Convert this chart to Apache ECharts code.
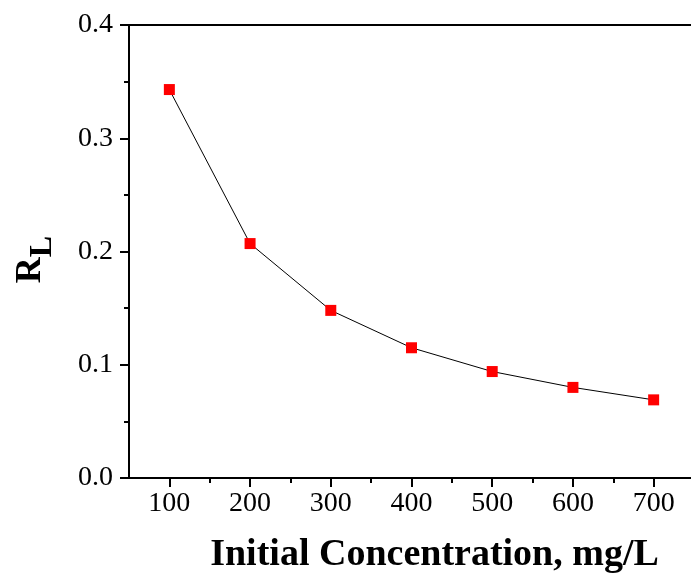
<!DOCTYPE html>
<html>
<head>
<meta charset="utf-8">
<script src="https://cdn.jsdelivr.net/npm/echarts@6/dist/echarts.min.js"></script>
<style>
  html, body { margin: 0; padding: 0; background: #fff; }
  #chart { width: 691px; height: 574px; }
</style>
</head>
<body>
<div id="chart"></div>
<script>
// initial concentration (mg/L) and separation factor R_L
const concentrations = [100, 200, 300, 400, 500, 600, 700]
const rlValues = [0.343, 0.207, 0.148, 0.115, 0.094, 0.080, 0.069]
const xMajorTicks = [100, 200, 300, 400, 500, 600, 700]
const xMinorTicks = [150, 250, 350, 450, 550, 650]

const FONT = 'Liberation Serif'

const chart = echarts.init(document.getElementById('chart'))

chart.setOption({
  animation: false,
  backgroundColor: '#fff',
  grid: { left: 129, right: -3, top: 25, bottom: 96, outerBoundsMode: 'none', containLabel: false },
  xAxis: [
    {
      type: 'value',
      min: 50,
      max: 750,
      position: 'bottom',
      axisLine: { show: true, lineStyle: { color: '#000', width: 2 } },
      axisTick: { show: true, customValues: xMajorTicks, length: 9, lineStyle: { color: '#000', width: 2 } },
      axisLabel: { customValues: xMajorTicks, fontFamily: FONT, fontSize: 28, color: '#000', margin: 12 },
      splitLine: { show: false },
      name: 'Initial Concentration, mg/L',
      nameLocation: 'middle',
      nameGap: 58,
      nameTextStyle: { fontFamily: FONT, fontWeight: 'bold', fontSize: 38, color: '#000', padding: [0, 0, 0, 46] },
    },
    {
      type: 'value',
      min: 50,
      max: 750,
      position: 'bottom',
      axisLine: { show: false },
      axisTick: { show: true, customValues: xMinorTicks, length: 5, lineStyle: { color: '#000', width: 2 } },
      axisLabel: { show: false },
      splitLine: { show: false },
    },
    {
      type: 'value',
      min: 50,
      max: 750,
      position: 'top',
      axisLine: { show: true, lineStyle: { color: '#000', width: 2 } },
      axisTick: { show: false },
      axisLabel: { show: false },
      splitLine: { show: false },
    },
  ],
  yAxis: {
    type: 'value',
    min: 0,
    max: 0.4,
    interval: 0.1,
    axisLine: { show: true, lineStyle: { color: '#000', width: 2 } },
    axisTick: { show: true, length: 9, lineStyle: { color: '#000', width: 2 } },
    minorTick: { show: true, splitNumber: 2, length: 5, lineStyle: { color: '#000', width: 2 } },
    axisLabel: { fontFamily: FONT, fontSize: 28, color: '#000', margin: 16, formatter: v => v.toFixed(1) },
    splitLine: { show: false },
    name: '{r|R}{s|L}',
    nameLocation: 'middle',
    nameGap: 70,
    nameTextStyle: {
      padding: [0, 16, 0, 0],
      rich: {
        r: { fontFamily: FONT, fontWeight: 'bold', fontSize: 36, color: '#000' },
        s: { fontFamily: FONT, fontWeight: 'bold', fontSize: 32, color: '#000', padding: [24, 0, 0, 0] },
      },
    },
  },
  series: [
    {
      type: 'line',
      xAxisIndex: 0,
      data: concentrations.map((c, i) => [c, rlValues[i]]),
      symbol: 'rect',
      symbolSize: 11,
      itemStyle: { color: '#ff0000' },
      lineStyle: { color: '#000', width: 1 },
    },
  ],
})
</script>
</body>
</html>
